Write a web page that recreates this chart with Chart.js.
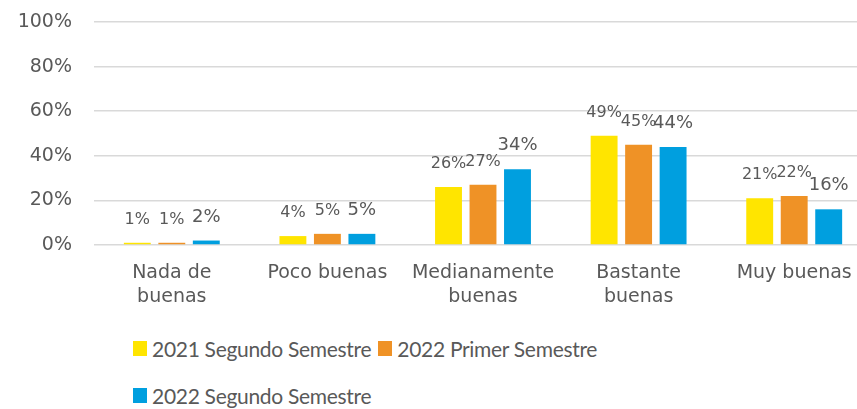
<!DOCTYPE html>
<html><head><meta charset="utf-8">
<script src="https://cdn.jsdelivr.net/npm/chart.js@4.4.0/dist/chart.umd.min.js"></script>
<style>
html,body{margin:0;padding:0;background:#fff;overflow:hidden;width:857px;height:409px;}
#wrap{position:absolute;left:0;top:0;width:872px;height:312px;}
#legend{position:absolute;left:133px;top:325px;width:640px;font-family:Lato,"Open Sans",sans-serif;font-size:21px;letter-spacing:-0.3px;color:#595959;}
.item{display:inline-flex;align-items:center;height:47px;margin-right:7px;white-space:nowrap;}
.box{width:14px;height:15px;margin-right:5px;display:inline-block;}
</style></head>
<body>
<div id="wrap"><canvas id="c" width="872" height="312"></canvas></div>
<div id="legend"></div>
<script>
const categories = [["Nada de","buenas"],["Poco buenas"],["Medianamente","buenas"],["Bastante","buenas"],["Muy buenas"]];
const seriesNames = ["2021 Segundo Semestre","2022 Primer Semestre","2022 Segundo Semestre"];
const s2021S2 = [1,4,26,49,21];
const s2022S1 = [1,5,27,45,22];
const s2022S2 = [2,5,34,44,16];
const yTicks = [0,20,40,60,80,100];
const colors = ["#FFE500","#EF9226","#009FDF"];
const labelSizes = [16,16,18];

const FONT = '"DejaVu Sans", sans-serif';
const GREY = '#595959';

const labelPlugin = {
  id:'barLabels',
  afterDatasetsDraw(chart){
    const ctx = chart.ctx;
    ctx.save();
    ctx.fillStyle = GREY;
    ctx.textAlign = 'center';
    ctx.textBaseline = 'alphabetic';
    chart.data.datasets.forEach((ds,i)=>{
      const meta = chart.getDatasetMeta(i);
      ctx.font = labelSizes[i] + 'px ' + FONT;
      meta.data.forEach((bar,j)=>{
        ctx.fillText(ds.data[j] + '%', bar.x, bar.y - 19);
      });
    });
    ctx.restore();
  }
};

const datasets = [s2021S2, s2022S1, s2022S2].map((d,i)=>({
  label: seriesNames[i], data: d, backgroundColor: colors[i],
  barPercentage: 0.78, categoryPercentage: 0.665
}));

new Chart(document.getElementById('c'), {
  type:'bar',
  data:{labels:categories, datasets},
  options:{
    responsive:false, animation:false,
    layout:{padding:{top:22,left:0,right:0,bottom:0}},
    plugins:{legend:{display:false}, tooltip:{enabled:false}},
    scales:{
      x:{
        grid:{display:false}, border:{display:false},
        ticks:{font:{family:FONT,size:19,lineHeight:1.27}, color:GREY, padding:8, maxRotation:0, autoSkip:false},
        afterFit(s){ s.height = 67; s.paddingLeft = 0; s.paddingRight = 0; }
      },
      y:{
        min:0, max:100,
        afterBuildTicks(s){ s.ticks = yTicks.map(v=>({value:v})); },
        ticks:{font:{family:FONT,size:19}, color:GREY, padding:22, callback:v=>v+'%'},
        grid:{color:'#d9d9d9', lineWidth:1.5, drawTicks:false},
        border:{display:false},
        afterFit(s){ s.width = 94; s.paddingTop = 0; s.paddingBottom = 0; }
      }
    }
  },
  plugins:[labelPlugin]
});

const lg = document.getElementById('legend');
seriesNames.forEach((n,i)=>{
  const it = document.createElement('span'); it.className='item';
  const b = document.createElement('span'); b.className='box'; b.style.background=colors[i];
  const t = document.createElement('span'); t.textContent = n;
  it.appendChild(b); it.appendChild(t); lg.appendChild(it);
  if(i===1) lg.appendChild(document.createElement('br'));
});
</script>
</body></html>
